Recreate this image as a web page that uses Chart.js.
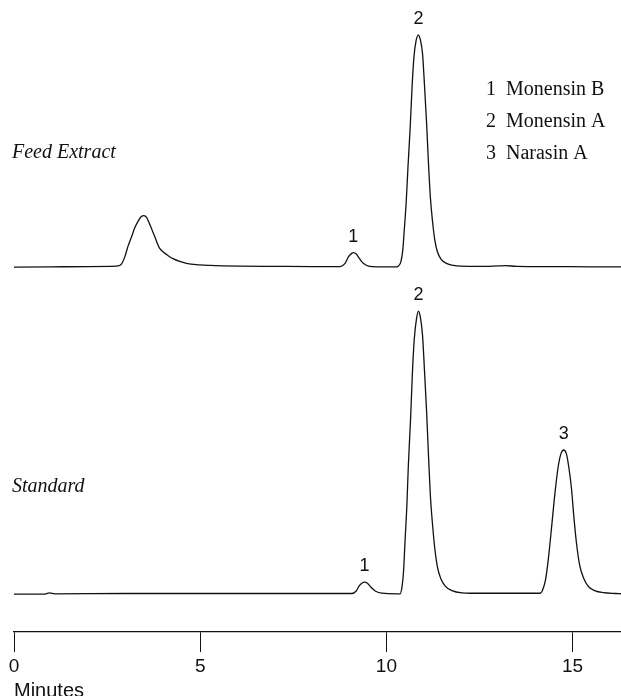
<!DOCTYPE html>
<html>
<head>
<meta charset="utf-8">
<title>Monensin / Narasin chromatograms</title>
<script src="https://cdn.jsdelivr.net/npm/chart.js@4.4.1/dist/chart.umd.min.js"></script>
<style>
    html, body { margin: 0; padding: 0; background: #fff; }
    #wrap { position: relative; width: 621px; height: 696px; }
</style>
</head>
<body>
<div id="wrap"><canvas id="chromChart"></canvas></div>
<script>
// ==================== DATA ====================
// Feed Extract trace (time in minutes, response relative to Monensin A = 100)
const feedTime = [0, 1.0, 2.0, 2.6, 2.80, 2.89, 2.98, 3.06, 3.16, 3.24, 3.33, 3.42, 3.49, 3.56, 3.65, 3.74, 3.83, 3.90,
    4.01, 4.14, 4.27, 4.45, 4.63, 4.90, 5.26, 6.07, 7.0, 8.0, 8.76, 8.89, 8.98, 9.07, 9.11, 9.19, 9.27, 9.38, 9.52,
    9.74, 10.28, 10.32, 10.39, 10.44, 10.48, 10.53, 10.58, 10.64, 10.69, 10.74, 10.80, 10.86, 10.91, 10.97, 11.02,
    11.08, 11.13, 11.18, 11.24, 11.30, 11.37, 11.47, 11.61, 11.80, 11.98, 12.5, 13.0, 13.2, 13.5, 14.5, 15.5, 16.3];
const feedResp = [0, 0.1, 0.2, 0.3, 0.5, 1.4, 4.6, 8.9, 13.2, 16.8, 19.7, 21.8, 22.2, 21.4, 18.2, 14.7, 11.0, 8.4,
    6.5, 4.9, 3.6, 2.4, 1.6, 1.0, 0.7, 0.4, 0.3, 0.2, 0.2, 1.6, 4.4, 5.9, 6.2, 5.6, 3.8, 1.6, 0.4,
    0.1, 0.1, 0.4, 2.3, 7.3, 15.9, 27.4, 43.2, 60.5, 77.7, 90.6, 97.8, 100, 98.1, 92.1, 79.2,
    61.9, 44.7, 30.3, 19.5, 11.6, 6.6, 3.3, 1.6, 0.7, 0.4, 0.3, 0.5, 0.6, 0.3, 0.2, 0.1, 0.1];

// Standard trace
const stdTime = [0, 0.8, 0.95, 1.1, 3.0, 6.0, 8.5, 9.07, 9.19, 9.27, 9.35, 9.41, 9.49, 9.58, 9.70, 9.88, 10.28,
    10.37, 10.42, 10.46, 10.50, 10.55, 10.59, 10.65, 10.70, 10.75, 10.81, 10.86, 10.91, 10.97, 11.02, 11.08, 11.13,
    11.18, 11.24, 11.30, 11.37, 11.46, 11.58, 11.76, 12.03, 12.25, 13.0, 14.13, 14.19, 14.27, 14.35, 14.45, 14.53,
    14.62, 14.69, 14.76, 14.83, 14.89, 14.97, 15.03, 15.10, 15.19, 15.30, 15.43, 15.61, 15.83, 16.15, 16.31];
const stdResp = [0, 0, 0.4, 0.1, 0.2, 0.2, 0.2, 0.2, 1.1, 2.9, 3.9, 4.2, 3.8, 2.5, 1.1, 0.3, 0.1,
    0.1, 2.6, 7.9, 18.5, 31.4, 45.6, 62.1, 78.6, 90.3, 97.4, 100, 98.0, 91.5, 79.7, 64.4, 49.1,
    35.0, 24.4, 16.1, 9.6, 5.5, 2.8, 1.2, 0.4, 0.3, 0.3, 0.3, 1.3, 4.8, 12.5, 25.5, 36.1,
    45.6, 49.7, 50.9, 49.7, 45.6, 37.3, 27.9, 18.5, 10.2, 5.5, 2.6, 1.1, 0.5, 0.2, 0.1];

// Peak numbering (retention times of labelled peaks)
const feedPeakLabels = ['1', '2'];
const feedPeakTimes = [9.11, 10.86];
const stdPeakLabels = ['1', '2', '3'];
const stdPeakTimes = [9.41, 10.86, 14.76];

// Axis ticks and legend
const xTicks = [0, 5, 10, 15];
const xMax = 16.3;
const traceNames = ['Feed Extract', 'Standard'];
const compoundIds = ['1', '2', '3'];
const compoundNames = ['Monensin B', 'Monensin A', 'Narasin A'];

// ==================== CHART ====================
const toPoints = (xs, ys) => xs.map((x, i) => ({ x: x, y: ys[i] }));

// draws peak numbers, trace names and the compound key
const annotations = {
    id: 'annotations',
    afterDraw(chart) {
        const ctx = chart.ctx;
        const xs = chart.scales.x;
        ctx.save();
        ctx.fillStyle = '#111';

        // peak numbers above each labelled peak
        ctx.font = '18px "Liberation Sans", Arial, sans-serif';
        ctx.textAlign = 'center';
        ctx.textBaseline = 'middle';
        const labelPeaks = (labels, times, tArr, rArr, scale) => {
            labels.forEach((lab, i) => {
                const idx = tArr.indexOf(times[i]);
                const px = xs.getPixelForValue(times[i]);
                const py = scale.getPixelForValue(rArr[idx]);
                ctx.fillText(lab, px, py - 16);
            });
        };
        labelPeaks(feedPeakLabels, feedPeakTimes, feedTime, feedResp, chart.scales.y);
        labelPeaks(stdPeakLabels, stdPeakTimes, stdTime, stdResp, chart.scales.y2);

        // trace names
        ctx.font = 'italic 20px "Liberation Serif", "Times New Roman", serif';
        ctx.textAlign = 'left';
        ctx.textBaseline = 'alphabetic';
        ctx.fillText(traceNames[0], 12, 158);
        ctx.fillText(traceNames[1], 12, 492);

        // compound key
        ctx.font = '20px "Liberation Serif", "Times New Roman", serif';
        compoundIds.forEach((id, i) => {
            const y = 95 + i * 32;
            ctx.fillText(id, 486, y);
            ctx.fillText(compoundNames[i], 506, y);
        });
        ctx.restore();
    }
};

const lineStyle = {
    borderColor: '#111',
    borderWidth: 1.3,
    pointRadius: 0,
    fill: false,
    cubicInterpolationMode: 'monotone'
};

new Chart(document.getElementById('chromChart'), {
    type: 'line',
    data: {
        datasets: [
            Object.assign({ label: traceNames[0], data: toPoints(feedTime, feedResp), yAxisID: 'y' }, lineStyle),
            Object.assign({ label: traceNames[1], data: toPoints(stdTime, stdResp), yAxisID: 'y2' }, lineStyle)
        ]
    },
    options: {
        responsive: true,
        maintainAspectRatio: false,
        animation: false,
        layout: { padding: { left: 14, right: 0, top: 0, bottom: 0 } },
        plugins: { legend: { display: false }, tooltip: { enabled: false } },
        scales: {
            x: {
                type: 'linear',
                position: 'bottom',
                min: 0,
                max: xMax,
                afterFit: (scale) => { scale.height = 64; },
                afterBuildTicks: (scale) => { scale.ticks = xTicks.map(v => ({ value: v })); },
                ticks: {
                    color: '#111',
                    padding: 3,
                    font: { family: '"Liberation Sans", Arial, sans-serif', size: 19 }
                },
                grid: { drawOnChartArea: false, drawTicks: true, tickLength: 20, color: '#111', lineWidth: 1 },
                border: { display: true, color: '#111', width: 1.3 },
                title: {
                    display: true,
                    text: 'Minutes',
                    align: 'start',
                    color: '#111',
                    padding: { top: 0, bottom: -7 },
                    font: { family: '"Liberation Sans", Arial, sans-serif', size: 20 }
                }
            },
            // upper trace: baseline at 267px, Monensin A apex at 35px
            y: { display: false, min: -157.3, max: 115.1 },
            // lower trace: baseline at 594px, Monensin A apex at 311px
            y2: { display: false, min: -13.4, max: 209.9 }
        }
    },
    plugins: [annotations]
});
</script>
</body>
</html>
